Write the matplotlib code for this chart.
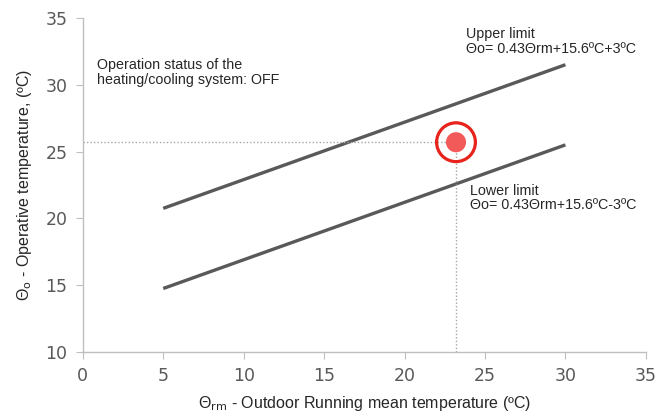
import matplotlib
matplotlib.use("Agg")
import matplotlib.pyplot as plt
import numpy as np

x_ends = [5, 30]
slope = 0.43
intercept = 15.6
band = 3.0
upper = [slope * x + intercept + band for x in x_ends]
lower = [slope * x + intercept - band for x in x_ends]
point_x = 23.2
point_y = 25.7

fig = plt.figure(figsize=(6.57, 4.18), dpi=100)
ax = fig.add_axes([0.126, 0.158, 0.857, 0.799])

ax.plot(x_ends, upper, color="#595959", lw=2.4, solid_capstyle="butt")
ax.plot(x_ends, lower, color="#595959", lw=2.4, solid_capstyle="butt")

ax.plot([0, point_x], [point_y, point_y], color="#a6a6a6", lw=1.0, ls=(0, (1, 1.5)))
ax.plot([point_x, point_x], [10, point_y], color="#a6a6a6", lw=1.0, ls=(0, (1, 1.5)))

ax.scatter([point_x], [point_y], s=210, color="#f25a5a", zorder=4, edgecolors="none")
ax.scatter([point_x], [point_y], s=780, facecolors="none", edgecolors="#e8231b", linewidths=2.3, zorder=5)

ax.set_xlim(0, 35)
ax.set_ylim(10, 35)
ax.set_xticks(np.arange(0, 36, 5))
ax.set_yticks(np.arange(10, 36, 5))
for s in ["top", "right"]:
    ax.spines[s].set_visible(False)
for s in ["left", "bottom"]:
    ax.spines[s].set_color("#bfbfbf")
    ax.spines[s].set_linewidth(1.0)
ax.tick_params(colors="#bfbfbf", labelcolor="#595959", labelsize=12.5, length=5, direction="out", pad=6)

lab_font = dict(family=["Liberation Sans", "DejaVu Sans"], fontsize=11.5, color="#262626")
ax.set_xlabel("Θ$_{\\rm rm}$ - Outdoor Running mean temperature (ºC)", labelpad=6, **lab_font)
ax.set_ylabel("Θ$_{\\rm o}$ - Operative temperature, (ºC)", labelpad=8, **lab_font)

ann = dict(family=["Liberation Sans", "DejaVu Sans"], fontsize=10.3, color="#262626",
           va="top", ha="left", linespacing=1.05)
ax.text(23.85, 34.3, "Upper limit\nΘo= 0.43Θrm+15.6ºC+3ºC", **ann)
ax.text(24.05, 22.6, "Lower limit\nΘo= 0.43Θrm+15.6ºC-3ºC", **ann)
ax.text(0.9, 32.0, "Operation status of the\nheating/cooling system: OFF", **ann)

fig.savefig("out.png", dpi=100)
